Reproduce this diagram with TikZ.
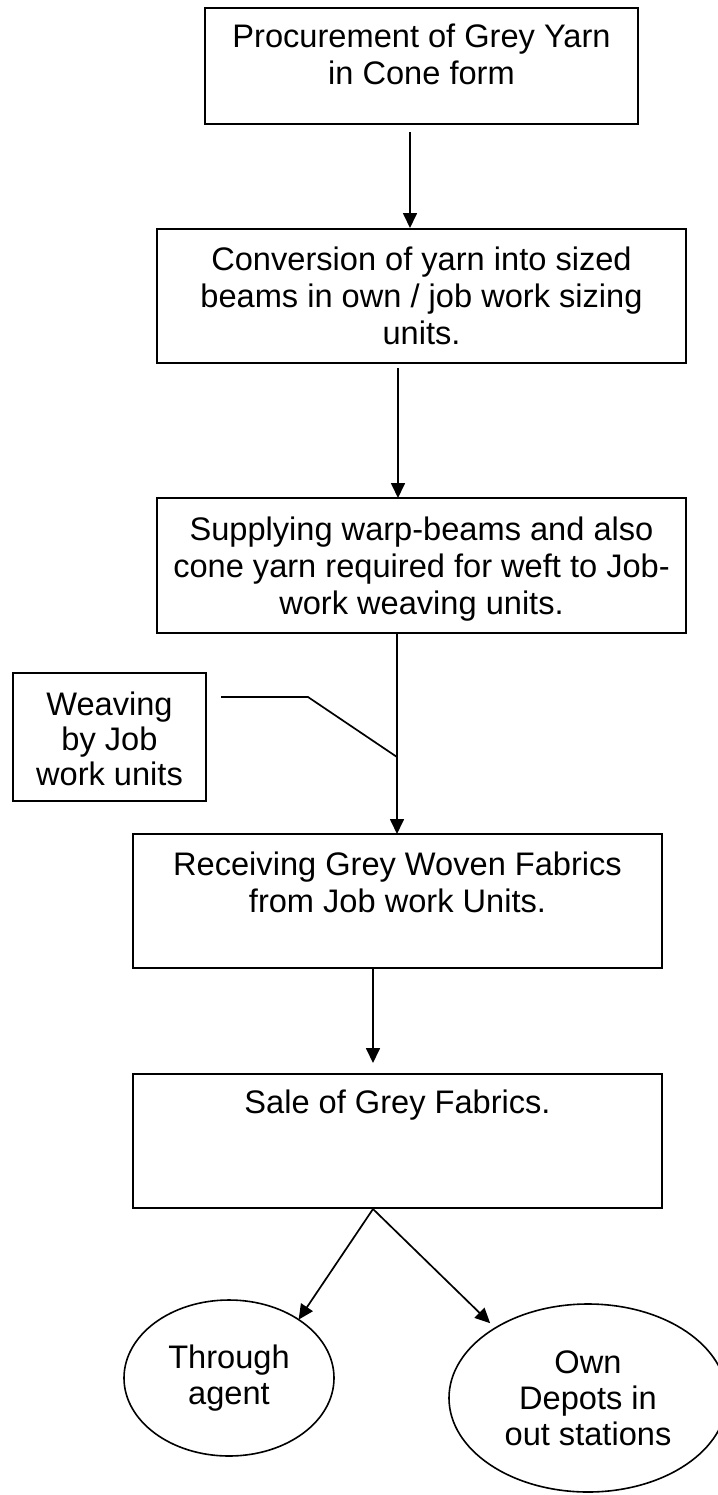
\documentclass[tikz,border=0pt]{standalone}
\usepackage{fontspec}
\setmainfont{Liberation Sans}
\usetikzlibrary{arrows.meta,calc,shapes.geometric}
\begin{document}
\begin{tikzpicture}[x=0.5pt,y=-0.5pt,
  box/.style={draw,line width=1pt,rectangle,inner sep=0pt,outer sep=0pt},
  txt/.style={align=center,font=\fontsize{16.3pt}{18.5pt}\selectfont,inner sep=0pt,anchor=base},
  oval/.style={draw,line width=0.8pt,ellipse,inner sep=0pt,outer sep=0pt,align=center,font=\fontsize{16.3pt}{18pt}\selectfont},
  conn/.style={line width=0.85pt},
  arr/.style={line width=0.85pt,-{Triangle[width=7pt,length=7.5pt]}}]
\clip (0,0) rectangle (718,1495);
\fill[white] (0,0) rectangle (718,1495);
% boxes
\node[box,minimum width=216.5pt,minimum height=58pt] (b1) at (421.5,66) {};
\node[box,minimum width=264.5pt,minimum height=67pt] (b2) at (421.5,296) {};
\node[box,minimum width=264.5pt,minimum height=67.5pt] (b3) at (421.5,565.5) {};
\node[box,minimum width=264.5pt,minimum height=67pt] (b4) at (397.5,901) {};
\node[box,minimum width=264.5pt,minimum height=67pt] (b5) at (397.5,1141) {};
\node[box,minimum width=96.5pt,minimum height=64pt] (w) at (109.5,737) {};
% texts (anchor base = baseline of the last line)
\node[txt] (t1) at (421.5,84) {Procurement of Grey Yarn\\in Cone form};
\node[txt] (t2) at (421.5,344) {Conversion of yarn into sized\\beams in own / job work sizing\\units.};
\node[txt] (t3) at (421.5,614) {Supplying warp-beams and also\\cone yarn required for weft to Job-\\work weaving units.};
\node[txt] (t4) at (397.5,912) {Receiving Grey Woven Fabrics\\from Job work Units.};
\node[txt] (t5) at (397.5,1113) {Sale of Grey Fabrics.};
\node[txt,font=\fontsize{16.3pt}{17.5pt}\selectfont] (tw) at (109.5,785) {Weaving\\by Job\\work units};
% ellipses
\node[oval,minimum width=105pt,minimum height=78pt] (e1) at (229,1378) {Through\\agent};
\node[oval,minimum width=139pt,minimum height=94pt] (e2) at (588,1398) {Own\\Depots in\\out stations};
% connectors
\draw[arr] ($(b1.south)+(-11.5,8)$) -- ($(b2.north)+(-11.5,-1)$);
\draw[arr] ($(b2.south)+(-23.5,5)$) -- ($(b3.north)+(-23.5,0)$);
\draw[arr] ($(b3.south)+(-24.5,0)$) -- ($(b4.north)+(-0.5,0)$);
\draw[arr] ($(b4.south)+(-24.5,0)$) -- ($(b5.north)+(-24.5,-11)$);
\coordinate (j) at ($(b3.south)+(-24.5,124)$);
\draw[conn] ($(w.north east)+(15,24)$) -- ++(87,0) -- (j);
\coordinate (fork) at ($(b5.south)+(-24.5,1)$);
\draw[arr] (fork) -- (e1.40);
\draw[arr,shorten >=3.5pt] (fork) -- (e2.143);
\end{tikzpicture}
\end{document}
